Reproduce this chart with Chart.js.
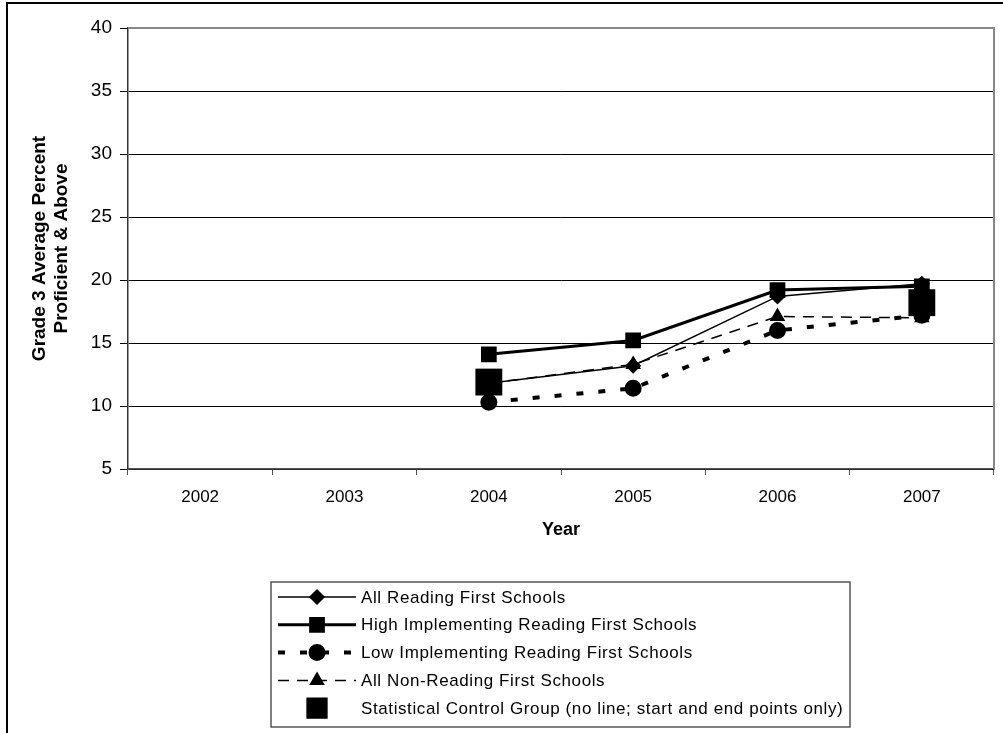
<!DOCTYPE html>
<html>
<head>
<meta charset="utf-8">
<script src="https://cdn.jsdelivr.net/npm/chart.js@4/dist/chart.umd.min.js"></script>
<style>
  html, body { margin: 0; padding: 0; background: #fff; }
  canvas { display: block; }
</style>
</head>
<body>
<canvas id="grafico" width="1003" height="733"></canvas>
<script>
var ANOS     = ['2002', '2003', '2004', '2005', '2006', '2007'];
var TODAS_RF = [null, null, 11.8, 13.2, 18.7, 19.7];
var ALTA_RF  = [null, null, 14.1, 15.2, 19.2, 19.5];
var BAIXA_RF = [null, null, 10.3, 11.4, 16.0, 17.2];
var NAO_RF   = [null, null, 11.8, 13.3, 17.1, 17.0];
var CONTROLE = [null, null, 11.9, null, null, 18.2];
var Y_TICKS  = [5, 10, 15, 20, 25, 30, 35, 40];

var FONTE = '"Liberation Sans", Arial, sans-serif';

var ROTULOS = [
    'All Reading First Schools',
    'High Implementing Reading First Schools',
    'Low Implementing Reading First Schools',
    'All Non-Reading First Schools',
    'Statistical Control Group (no line; start and end points only)'
];

/* ---- moldura externa + borda da área do gráfico ---- */
var molduraPlugin = {
    id: 'moldura',
    beforeDraw: function(chart) {
        var ctx = chart.ctx;
        ctx.save();
        ctx.strokeStyle = '#000';
        ctx.lineWidth = 2;
        ctx.beginPath();
        ctx.moveTo(7, 733); ctx.lineTo(7, 3); ctx.lineTo(1003, 3);
        ctx.stroke();
        ctx.restore();
    },
    beforeDatasetsDraw: function(chart) {
        var a = chart.chartArea, ctx = chart.ctx;
        ctx.save();
        ctx.strokeStyle = '#888';
        ctx.lineWidth = 2;
        ctx.beginPath();
        ctx.moveTo(a.left, a.top); ctx.lineTo(a.right, a.top); ctx.lineTo(a.right, a.bottom);
        ctx.stroke();
        ctx.restore();
    }
};

/* ---- legenda desenhada à mão (linha + marcador, como no Excel) ---- */
var legendaPlugin = {
    id: 'legendaExcel',
    afterDraw: function(chart) {
        var ctx = chart.ctx;
        var bx = 271, by = 582, bw = 579, bh = 145;
        ctx.save();
        ctx.strokeStyle = '#555';
        ctx.lineWidth = 1.5;
        ctx.strokeRect(bx, by, bw, bh);

        chart.data.datasets.forEach(function(ds, i) {
            var y = 597 + i * 27.8;
            var x0 = 278, x1 = 356, xm = 317;
            if (ds.showLine !== false) {
                ctx.beginPath();
                ctx.setLineDash(ds.borderDash || []);
                ctx.lineWidth = ds.borderWidth;
                ctx.strokeStyle = '#000';
                ctx.moveTo(x0, y); ctx.lineTo(x1, y);
                ctx.stroke();
                ctx.setLineDash([]);
            }
            Chart.helpers.drawPoint(ctx, {
                pointStyle: ds.pointStyle,
                radius: ds.legendRadius || ds.pointRadius,
                borderWidth: 1
            }, xm, y);
            ctx.fillStyle = '#000';
            ctx.textBaseline = 'middle';
            ctx.textAlign = 'left';
            ctx.font = '17px ' + FONTE;
            ctx.letterSpacing = '0.6px';
            ctx.fillText(ROTULOS[i], 361, y + 1);
            ctx.letterSpacing = '0px';
        });
        ctx.restore();
    }
};

function serie(dados, estilo, raio, largura, traco) {
    return {
        data: dados,
        borderColor: '#000',
        backgroundColor: '#000',
        pointBackgroundColor: '#000',
        pointBorderColor: '#000',
        pointStyle: estilo,
        pointRadius: raio,
        pointHoverRadius: raio,
        borderWidth: largura,
        borderDash: traco,
        tension: 0,
        spanGaps: false
    };
}

var dsControle = serie(CONTROLE, 'rect', 19, 0, []);
dsControle.showLine = false;
dsControle.order = -1;
dsControle.legendRadius = 14;

new Chart(document.getElementById('grafico'), {
    type: 'line',
    data: {
        labels: ANOS,
        datasets: [
            serie(TODAS_RF, 'rectRot', 7, 1.5, []),
            serie(ALTA_RF, 'rect', 9, 3, []),
            serie(BAIXA_RF, 'circle', 6.5, 4, [7, 15]),
            serie(NAO_RF, 'triangle', 7.5, 1.5, [11, 8]),
            dsControle
        ]
    },
    options: {
        responsive: false,
        animation: false,
        devicePixelRatio: 1,
        layout: { autoPadding: false, padding: { left: 0, top: 28, right: 9, bottom: 0 } },
        plugins: {
            legend: { display: false },
            tooltip: { enabled: false }
        },
        scales: {
            x: {
                offset: true,
                grid: { display: true, offset: true, drawOnChartArea: false, tickLength: 6, color: '#555' },
                border: { display: true, color: '#555', width: 1.5 },
                ticks: { color: '#000', font: { family: FONTE, size: 17 }, padding: 12, maxRotation: 0 },
                title: {
                    display: true, text: 'Year', color: '#000',
                    font: { family: FONTE, size: 18, weight: 'bold', lineHeight: 1.2 },
                    padding: { top: 0, bottom: 192 }
                },
                afterFit: function(s) { s.height = 264; s.paddingLeft = 0; s.paddingRight = 0; }
            },
            y: {
                min: 5, max: 40,
                afterBuildTicks: function(s) { s.ticks = Y_TICKS.map(function(v) { return { value: v }; }); },
                grid: { color: '#000', lineWidth: 1, tickLength: 8 },
                border: { display: true, color: '#333', width: 1.5 },
                ticks: { color: '#000', font: { family: FONTE, size: 19 }, padding: 8 },
                title: {
                    display: true,
                    text: ['Grade 3 Average Percent', 'Proficient & Above'],
                    color: '#000',
                    font: { family: FONTE, size: 19, weight: 'bold', lineHeight: 1.2 },
                    padding: { top: 28, bottom: 0 }
                },
                afterFit: function(s) { s.width = 128; }
            }
        }
    },
    plugins: [molduraPlugin, legendaPlugin]
});
</script>
</body>
</html>
